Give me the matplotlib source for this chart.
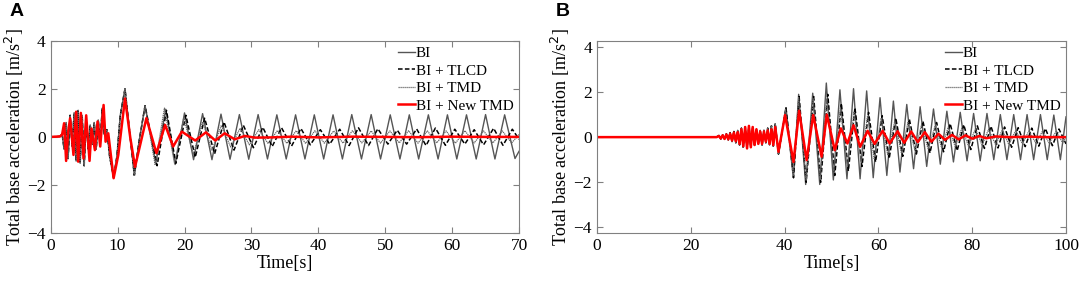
import numpy as np
import matplotlib.pyplot as plt

# ---- panel A: values (peaks / troughs) ----
a_early_t = [0, 1.4, 1.7, 2.0, 2.3, 2.6, 2.9, 3.2, 3.5, 3.8, 4.1, 4.4, 4.7, 5.0, 5.3, 5.6, 5.9, 6.2,
             6.5, 6.8, 7.1, 7.4, 7.7, 8.0, 8.4, 8.8, 9.4, 9.9, 10.4, 11.1, 11.8, 12.5, 13.2, 14.1]
a_early_v = [0, 0.02, 0.12, -0.5, 0.6, -0.9, 0.9, -0.4, 1.0, -1.0, 1.1, -1.1, 0.9, -1.2, 0.6, -0.5, 0.5, -0.3,
             0.6, -0.5, 0.7, -0.2, 1.2, 0.1, 0.3, -0.8, -1.7, -0.8, 0.9, 2.0, 0.2, -1.6, -0.2, 1.3]

a_bi_t = [15.7, 17.2, 18.6, 20.0, 21.35, 22.7, 24.1, 25.45, 26.8, 28.2, 29.6, 31.0, 32.4, 33.8, 35.2,
          36.6, 38.0, 39.4, 40.8, 42.2, 43.6, 45.0, 46.45, 47.9, 49.3, 50.75, 52.2, 53.6, 55.0, 56.45,
          57.9, 59.3, 60.7, 62.15, 63.6, 65.0, 66.4, 67.85, 69.4, 70.0]
a_bi_v = [-1.1, 1.15, -1.15, 1.0, -0.95, 0.97, -0.95, 0.95, -0.93, 0.93, -0.93, 0.93, -0.92, 0.92, -0.92,
          0.92, -0.92, 0.92, -0.92, 0.92, -0.92, 0.93, -0.92, 0.93, -0.92, 0.92, -0.92, 0.92, -0.92, 0.92,
          -0.92, 0.92, -0.92, 0.92, -0.92, 0.93, -0.92, 0.92, -0.9, -0.6]

a_tlcd_t = [15.9, 17.3, 18.7, 20.2, 21.6, 23.0, 24.5, 25.9, 27.4, 28.8, 30.3, 31.7, 33.1, 34.5, 36.0,
            37.4, 38.8, 40.3, 41.7, 43.2, 44.6, 46.0, 47.5, 48.9, 50.4, 51.8, 53.2, 54.7, 56.1, 57.5,
            59.0, 60.4, 61.9, 63.3, 64.7, 66.2, 67.6, 69.0, 70.0]
a_tlcd_v = [-1.2, 1.1, -1.1, 0.9, -0.85, 0.78, -0.7, 0.62, -0.55, 0.48, -0.45, 0.4, -0.4, 0.38, -0.38,
            0.35, -0.33, 0.3, -0.3, 0.32, -0.36, 0.38, -0.36, 0.34, -0.3, 0.28, -0.3, 0.33, -0.36, 0.37,
            -0.35, 0.32, -0.3, 0.3, -0.33, 0.36, -0.35, 0.32, -0.1]

a_tmd_t = [15.6, 17.0, 18.5, 19.9, 21.3, 22.7, 24.1, 25.5, 26.9, 28.3, 29.7, 31.1, 32.5, 33.9, 35.3,
           36.7, 38.1, 39.5, 40.9, 42.3, 43.7, 45.1, 46.5, 47.9, 49.3, 50.7, 52.1, 53.5, 54.9, 56.3,
           57.7, 59.1, 60.5, 61.9, 63.3, 64.7, 66.1, 67.5, 68.9, 70.0]
a_tmd_v = [-1.15, 1.2, -1.1, 0.8, -0.75, 0.62, -0.55, 0.48, -0.42, 0.36, -0.33, 0.3, -0.28, 0.27, -0.27,
           0.26, -0.27, 0.26, -0.26, 0.25, -0.26, 0.26, -0.25, 0.25, -0.26, 0.25, -0.25, 0.26, -0.26, 0.25,
           -0.25, 0.25, -0.26, 0.26, -0.25, 0.25, -0.25, 0.25, -0.25, 0.1]

a_new_t = [0, 1.4, 1.7, 2.0, 2.3, 2.6, 2.9, 3.4, 3.8, 4.1, 4.5, 4.9, 5.3, 5.8, 6.1, 6.6, 7.0, 7.4, 7.9,
           8.2, 8.6, 9.4, 10.1, 11.1, 11.9, 12.6, 14.3, 15.8, 17.1, 18.3, 19.6, 21.6, 23.2, 24.6, 26.0,
           27.5, 29.0, 30.5, 33.0, 36, 40, 45, 50, 55, 60, 65, 70]
a_new_v = [0, 0.02, 0.1, 0.57, -1.0, 0.2, 0.78, -0.75, 1.05, -1.03, 1.0, -0.9, 0.9, -1.0, 0.35, -0.55,
           0.64, -0.4, 1.33, -0.2, 0.15, -1.72, -0.75, 1.6, -0.05, -1.25, 0.78, -0.68, 0.5, -0.4, 0.22,
           -0.15, 0.19, -0.15, 0.15, -0.1, 0.04, -0.03, -0.02, 0.01, -0.02, 0.01, 0.0, -0.01, 0.01, 0.0, 0.0]

# ---- panel B ----
b_early_t = [0, 25.5, 26.0, 26.4, 26.8, 27.2, 27.6, 28.0, 28.4, 28.8, 29.2, 29.6, 30.0, 30.4, 30.8, 31.2,
             31.6, 32.0, 32.4, 32.8, 33.2, 33.6, 34.0, 34.4, 34.8, 35.2, 35.6, 36.0, 36.4, 36.8, 37.2,
             37.6, 38.0, 38.7]
b_early_v = [0, 0, 0.08, -0.08, 0.1, -0.1, 0.15, -0.12, 0.2, -0.2, 0.25, -0.25, 0.3, -0.35, 0.4, -0.45,
             0.45, -0.5, 0.5, -0.45, 0.45, -0.35, 0.35, -0.3, 0.3, -0.35, 0.3, -0.25, 0.4, -0.35, 0.5,
             -0.4, 0.6, -0.75]

b_bi_t = [40.3, 41.9, 43.0, 44.5, 46.0, 47.5, 48.9, 50.4, 51.8, 53.3, 54.7, 56.1, 57.5, 58.9, 60.35,
          61.8, 63.2, 64.6, 66.05, 67.5, 68.9, 70.3, 71.75, 73.2, 74.6, 76.0, 77.45, 78.9, 80.3, 81.7,
          83.15, 84.6, 86.0, 87.4, 88.85, 90.3, 91.7, 93.1, 94.55, 96.0, 97.4, 98.8, 100.0]
b_bi_v = [1.3, -1.8, 1.9, -2.1, 1.95, -2.1, 2.4, -1.9, 2.1, -1.85, 2.15, -1.85, 2.05, -1.8, 1.75,
          -1.7, 1.6, -1.55, 1.45, -1.4, 1.35, -1.3, 1.25, -1.2, 1.15, -1.1, 1.1, -1.05, 1.05, -1.05,
          1.05, -1.0, 1.0, -1.0, 1.0, -1.0, 1.0, -1.0, 1.0, -1.0, 0.98, -1.0, 0.9]

b_tlcd_t = [40.3, 41.9, 43.1, 44.6, 46.2, 47.7, 49.2, 50.7, 52.1, 53.6, 55.0, 56.5, 57.9, 59.4, 60.8,
            62.3, 63.7, 65.2, 66.6, 68.1, 69.5, 71.0, 72.4, 73.9, 75.3, 76.8, 78.2, 79.7, 81.1, 82.6,
            84.0, 85.5, 86.9, 88.4, 89.8, 91.3, 92.7, 94.2, 95.6, 97.1, 98.5, 100.0]
b_tlcd_v = [1.3, -1.8, 1.8, -2.0, 1.8, -2.0, 1.9, -1.7, 1.5, -1.5, 1.3, -1.3, 1.1, -1.1, 0.95,
            -0.95, 0.85, -0.85, 0.8, -0.75, 0.7, -0.7, 0.65, -0.65, 0.6, -0.6, 0.55, -0.55, 0.5, -0.5,
            0.48, -0.48, 0.45, -0.45, 0.42, -0.42, 0.4, -0.4, 0.38, -0.38, 0.36, -0.3]

b_tmd_t = [40.2, 41.8, 43.0, 44.6, 46.1, 47.6, 49.0, 50.5, 51.9, 53.4, 54.8, 56.3, 57.7, 59.1, 60.6,
           62.0, 63.5, 64.9, 66.3, 67.8, 69.2, 70.6, 72.1, 73.5, 74.9, 76.4, 77.8, 79.2, 80.7, 82.1,
           83.5, 85.0, 86.4, 87.8, 89.3, 90.7, 92.1, 93.6, 95.0, 96.4, 97.9, 99.3, 100.0]
b_tmd_v = [1.25, -1.7, 1.75, -1.9, 1.7, -1.9, 1.7, -1.5, 1.3, -1.3, 1.1, -1.1, 0.95, -0.95, 0.85,
           -0.8, 0.72, -0.7, 0.65, -0.6, 0.55, -0.52, 0.5, -0.48, 0.45, -0.43, 0.4, -0.4, 0.38, -0.36,
           0.35, -0.34, 0.32, -0.32, 0.3, -0.3, 0.28, -0.28, 0.27, -0.27, 0.26, -0.26, 0.0]

b_new_t = [0, 25.5, 26.0, 26.4, 26.8, 27.2, 27.6, 28.0, 28.4, 28.8, 29.2, 29.6, 30.0, 30.4, 30.8, 31.2,
           31.6, 32.0, 32.4, 32.8, 33.2, 33.6, 34.0, 34.4, 34.8, 35.2, 35.6, 36.0, 36.4, 36.8, 37.2,
           37.6, 38.0, 38.7, 40.1, 41.9, 43.1, 44.7, 46.1, 47.9, 49.0, 50.7, 52.0, 53.4, 54.7, 56.1,
           57.7, 59.2, 60.9, 62.4, 64.1, 65.5, 67.0, 68.4, 69.9, 71.3, 72.8, 74.2, 75.7, 77.1, 78.6,
           80.0, 81.5, 83.0, 85, 88, 92, 96, 100]
b_new_v = [0, 0, 0.05, -0.06, 0.08, -0.08, 0.12, -0.1, 0.15, -0.15, 0.2, -0.18, 0.22, -0.3, 0.35, -0.4,
           0.45, -0.5, 0.5, -0.45, 0.45, -0.35, 0.35, -0.3, 0.25, -0.3, 0.25, -0.2, 0.3, -0.3, 0.35,
           -0.35, 0.45, -0.65, 0.98, -1.1, 1.17, -1.02, 0.98, -0.87, 1.0, -0.58, 0.39, -0.28, 0.53, -0.43,
           0.28, -0.3, 0.28, -0.28, 0.26, -0.25, 0.25, -0.22, 0.22, -0.2, 0.15, -0.12, 0.1, -0.1, 0.08,
           -0.07, 0.05, -0.05, 0.03, 0.0, 0.02, 0.0, 0.0]

labels = ['BI', 'BI + TLCD', 'BI + TMD', 'BI + New TMD']

plt.rcParams['font.family'] = ['Liberation Serif', 'DejaVu Serif']
plt.rcParams['font.size'] = 12


def draw(ax, early_t, early_v, bi, tlcd, tmd, new, xmax, xticks, ylim):
    ax.plot(early_t + bi[0], early_v + bi[1], color='#555555', lw=1.0, label=labels[0])
    ax.plot(early_t + tlcd[0], early_v + tlcd[1], color='black', lw=1.1, ls=(0, (3, 1.5)), label=labels[1])
    ax.plot(early_t + tmd[0], early_v + tmd[1], color='#666666', lw=0.9, ls=(0, (1, 0.6)), label=labels[2])
    ax.plot(new[0], new[1], color='red', lw=1.8, label=labels[3])
    ax.set_xlim(0, xmax)
    ax.set_ylim(*ylim)
    ax.set_xticks(xticks)
    ax.set_yticks([-4, -2, 0, 2, 4])
    ax.tick_params(direction='in', top=True, right=True, length=4, width=0.8, color='#808080',
                   labelsize=12.5, pad=3.5)
    for s in ax.spines.values():
        s.set_color('#808080')
        s.set_linewidth(0.8)
    ax.set_xlabel('Time[s]', fontsize=13, labelpad=1)
    ax.set_ylabel('Total base acceleration [m/s$^2$]', fontsize=13, labelpad=1)
    ax.legend(loc='upper right', frameon=False, fontsize=11, handlelength=1.1, handletextpad=0.05,
              labelspacing=0.25, borderaxespad=0.05, borderpad=0.32)


fig = plt.figure(figsize=(10.84, 2.82), dpi=100)
ax1 = fig.add_axes([0.0468, 0.174, 0.432, 0.681])
ax2 = fig.add_axes([0.5507, 0.174, 0.4327, 0.681])

draw(ax1, a_early_t, a_early_v, (a_bi_t, a_bi_v), (a_tlcd_t, a_tlcd_v), (a_tmd_t, a_tmd_v),
     (a_new_t, a_new_v), 70, [0, 10, 20, 30, 40, 50, 60, 70], (-4, 4))
draw(ax2, b_early_t, b_early_v, (b_bi_t, b_bi_v), (b_tlcd_t, b_tlcd_v), (b_tmd_t, b_tmd_v),
     (b_new_t, b_new_v), 100, [0, 20, 40, 60, 80, 100], (-4.25, 4.27))

fig.text(0.009, 0.945, 'A', fontsize=14, fontweight='bold', family='Liberation Sans')
fig.text(0.513, 0.945, 'B', fontsize=14, fontweight='bold', family='Liberation Sans')

fig.savefig('out.png', dpi=100)
